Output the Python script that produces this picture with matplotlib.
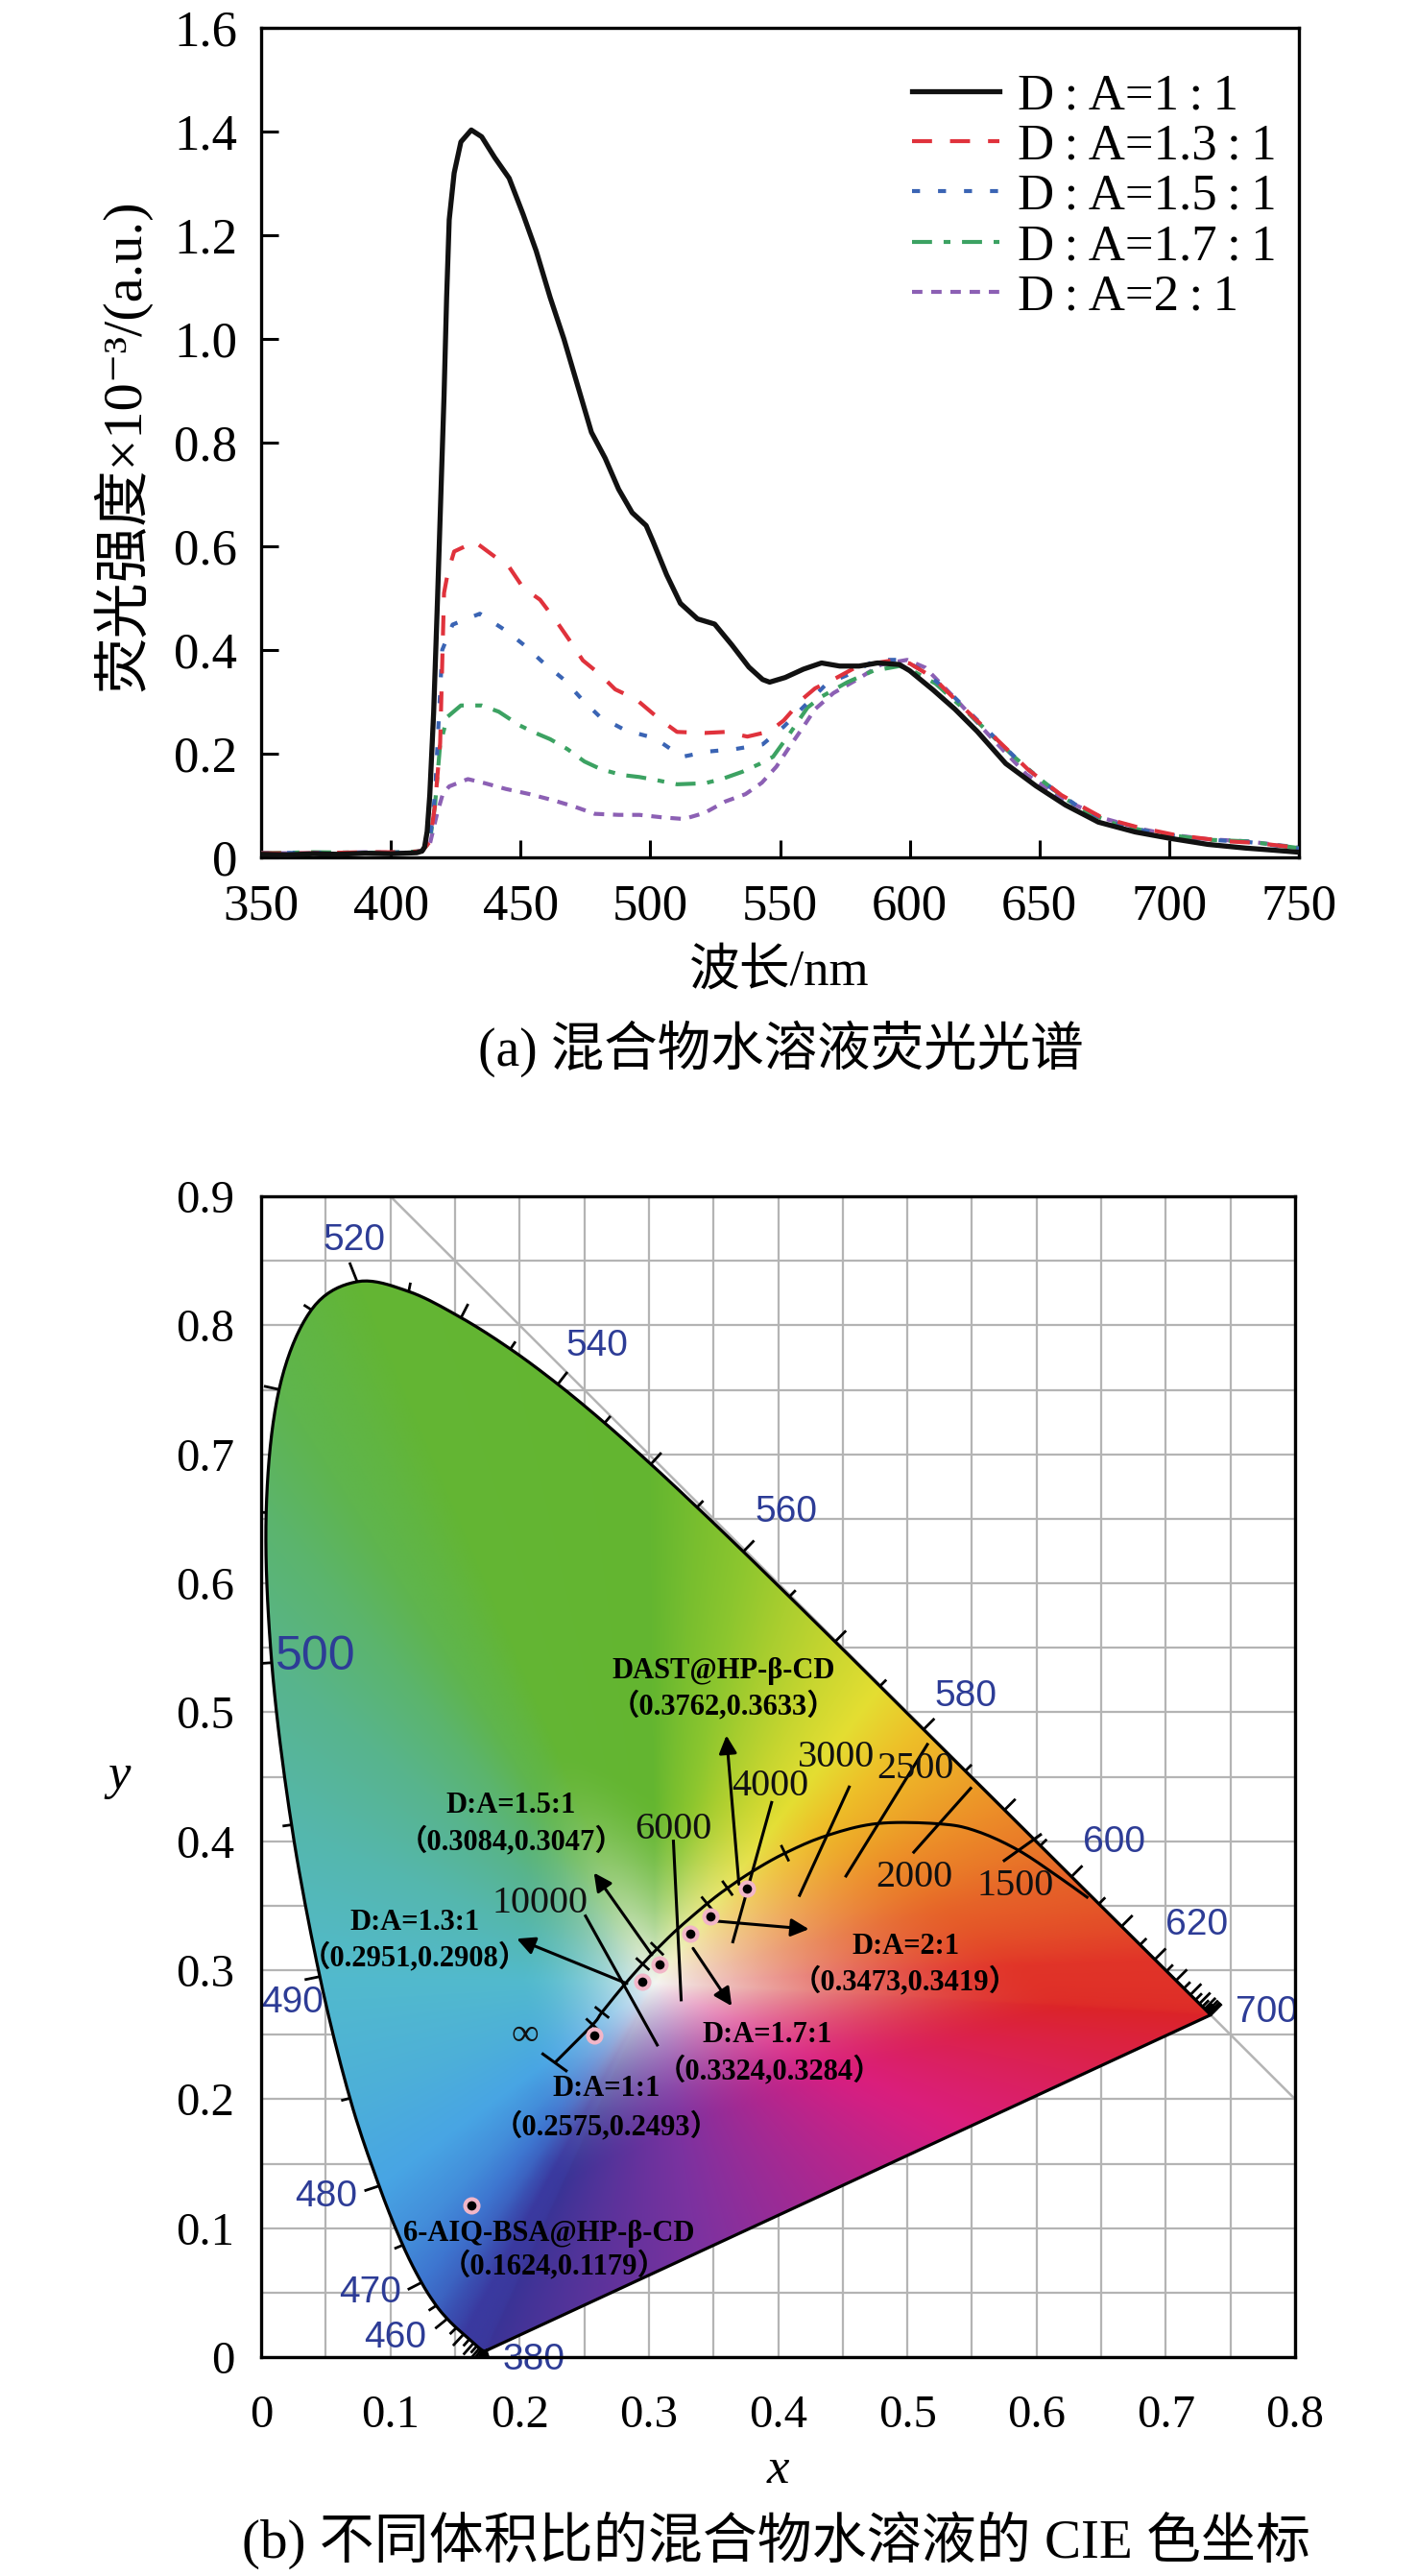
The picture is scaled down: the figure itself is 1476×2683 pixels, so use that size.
import numpy as np
import matplotlib
matplotlib.use('Agg')
import matplotlib.pyplot as plt
from matplotlib.patches import Polygon
from matplotlib.collections import LineCollection

plt.rcParams['font.family'] = ['Liberation Serif', 'Noto Sans CJK SC', 'DejaVu Sans']
plt.rcParams['axes.unicode_minus'] = False

# ---------------- (a) fluorescence spectra data ----------------
wl_k = [350, 360, 370, 380, 390, 400, 405, 410, 412, 413, 414, 415, 416.5, 418, 420.5, 421.5, 422.5, 424.4, 427,
        431, 435, 440, 445.6, 451, 456, 461.4, 466.7, 472, 477.3, 482.6, 487.8, 493, 498.4, 501, 506.3, 511.6,
        518.2, 524.8, 531.4, 538, 543.3, 546, 552, 559, 566, 573, 580.5, 587.6, 596, 600, 609, 617.4, 626, 637,
        648.6, 660, 672.7, 686.9, 700, 715, 729.4, 740, 750]
I_k = [0.006, 0.005, 0.007, 0.006, 0.008, 0.007, 0.008, 0.009, 0.012, 0.02, 0.05, 0.12, 0.28, 0.5, 0.89, 1.08, 1.23,
       1.32, 1.38, 1.403, 1.39, 1.35, 1.31, 1.24, 1.17, 1.08, 1.0, 0.91, 0.82, 0.77, 0.71, 0.665, 0.64, 0.61, 0.545,
       0.49, 0.46, 0.45, 0.41, 0.367, 0.343, 0.338, 0.347, 0.363, 0.375, 0.369, 0.369, 0.375, 0.372, 0.36, 0.323,
       0.286, 0.243, 0.181, 0.138, 0.101, 0.068, 0.049, 0.037, 0.025, 0.018, 0.014, 0.010]

wl_r = [350, 370, 390, 405, 412, 415, 417, 419, 420.5, 422, 424.4, 430.8, 432, 439, 445.6, 451, 457.5, 464, 468.7,
        474, 480.6, 486.5, 494.5, 503.7, 510.3, 521, 529, 537.4, 546, 551.4, 559, 563.5, 572, 579, 587, 594.7, 600,
        609, 620, 631.6, 645.7, 658.5, 674, 688, 702.5, 722, 733.7, 750]
I_r = [0.008, 0.008, 0.01, 0.01, 0.012, 0.03, 0.10, 0.22, 0.51, 0.55, 0.59, 0.605, 0.61, 0.584, 0.56, 0.52, 0.497,
       0.454, 0.42, 0.38, 0.353, 0.324, 0.305, 0.266, 0.242, 0.24, 0.242, 0.233, 0.243, 0.264, 0.307, 0.326, 0.347,
       0.366, 0.375, 0.381, 0.374, 0.347, 0.292, 0.237, 0.169, 0.12, 0.077, 0.058, 0.043, 0.031, 0.028, 0.018]

wl_b = [350, 370, 390, 405, 412, 415, 417, 419.8, 423.8, 434.3, 444.3, 451.5, 458, 466.7, 474, 480.6, 490.5, 501.7,
        512.3, 522, 532.8, 543.3, 551.4, 560.6, 568, 578, 587, 597.5, 605, 615, 625, 635, 645, 655, 665, 675, 690,
        700, 715, 730, 750]
I_b = [0.008, 0.009, 0.008, 0.01, 0.012, 0.03, 0.12, 0.40, 0.449, 0.47, 0.4375, 0.409, 0.379, 0.343, 0.303, 0.271,
       0.245, 0.23, 0.194, 0.204, 0.209, 0.218, 0.252, 0.298, 0.335, 0.356, 0.381, 0.381, 0.36, 0.32, 0.27, 0.22,
       0.172, 0.132, 0.098, 0.073, 0.052, 0.043, 0.034, 0.030, 0.017]

wl_g = [350, 370, 390, 405, 412, 415, 417, 419, 421.8, 427, 435, 441.6, 449.5, 454.8, 461.4, 468, 474.6, 481, 489,
        495.8, 502.4, 510.3, 521, 527.5, 535.4, 542, 547.3, 553.5, 560.6, 566, 576, 586, 596, 600, 610, 620, 630,
        640, 650, 660, 670, 680, 690, 700, 715, 730, 750]
I_g = [0.008, 0.01, 0.009, 0.01, 0.012, 0.03, 0.1, 0.218, 0.271, 0.293, 0.293, 0.281, 0.255, 0.242, 0.228, 0.209,
       0.185, 0.17, 0.159, 0.155, 0.149, 0.141, 0.143, 0.151, 0.165, 0.18, 0.194, 0.237, 0.289, 0.31, 0.338, 0.36,
       0.369, 0.363, 0.335, 0.29, 0.243, 0.195, 0.152, 0.113, 0.083, 0.063, 0.052, 0.043, 0.034, 0.031, 0.018]

wl_p = [350, 370, 390, 405, 412, 415, 417.8, 420, 422.5, 429.7, 436.3, 444.3, 453.5, 462.7, 470.7, 478.6, 487.8,
        495.8, 505, 513, 521, 529, 536.7, 543, 548.6, 553.5, 559, 563.5, 570.6, 579, 589, 599, 606, 617.4, 631.6,
        645, 660, 675, 690, 700, 715, 730, 750]
I_p = [0.008, 0.008, 0.01, 0.009, 0.012, 0.025, 0.084, 0.122, 0.137, 0.151, 0.143, 0.132, 0.122, 0.11, 0.098,
       0.084, 0.082, 0.082, 0.077, 0.074, 0.086, 0.108, 0.122, 0.144, 0.175, 0.212, 0.252, 0.286, 0.317, 0.341,
       0.372, 0.381, 0.366, 0.307, 0.23, 0.16, 0.11, 0.075, 0.054, 0.044, 0.035, 0.031, 0.019]

TS = '\u2009'
series_labels = ['D' + TS + ':' + TS + 'A=1' + TS + ':' + TS + '1',
                 'D' + TS + ':' + TS + 'A=1.3' + TS + ':' + TS + '1',
                 'D' + TS + ':' + TS + 'A=1.5' + TS + ':' + TS + '1',
                 'D' + TS + ':' + TS + 'A=1.7' + TS + ':' + TS + '1',
                 'D' + TS + ':' + TS + 'A=2' + TS + ':' + TS + '1']
xticks_a = [350, 400, 450, 500, 550, 600, 650, 700, 750]
yticks_a = [0, 0.2, 0.4, 0.6, 0.8, 1.0, 1.2, 1.4, 1.6]
ytick_labels_a = ['0', '0.2', '0.4', '0.6', '0.8', '1.0', '1.2', '1.4', '1.6']

# ---------------- (b) CIE data ----------------
loc_wl = list(range(380, 701, 5))
loc_x = [0.1741, 0.1740, 0.1738, 0.1736, 0.1733, 0.1730, 0.1726, 0.1721, 0.1714, 0.1703, 0.1689, 0.1669, 0.1644,
         0.1611, 0.1566, 0.1510, 0.1440, 0.1355, 0.1241, 0.1096, 0.0913, 0.0687, 0.0454, 0.0235, 0.0082, 0.0039,
         0.0139, 0.0389, 0.0743, 0.1142, 0.1547, 0.1929, 0.2296, 0.2658, 0.3016, 0.3373, 0.3731, 0.4087, 0.4441,
         0.4788, 0.5125, 0.5448, 0.5752, 0.6029, 0.6270, 0.6482, 0.6658, 0.6801, 0.6915, 0.7006, 0.7079, 0.7140,
         0.7190, 0.7230, 0.7260, 0.7283, 0.7300, 0.7311, 0.7320, 0.7327, 0.7334, 0.7340, 0.7344, 0.7346, 0.7347]
loc_y = [0.0050, 0.0050, 0.0049, 0.0049, 0.0048, 0.0048, 0.0048, 0.0048, 0.0051, 0.0058, 0.0069, 0.0086, 0.0109,
         0.0138, 0.0177, 0.0227, 0.0297, 0.0399, 0.0578, 0.0868, 0.1327, 0.2007, 0.2950, 0.4127, 0.5384, 0.6548,
         0.7502, 0.8120, 0.8338, 0.8262, 0.8059, 0.7816, 0.7543, 0.7243, 0.6923, 0.6589, 0.6245, 0.5896, 0.5547,
         0.5202, 0.4866, 0.4544, 0.4242, 0.3965, 0.3725, 0.3514, 0.3340, 0.3197, 0.3083, 0.2993, 0.2920, 0.2859,
         0.2809, 0.2770, 0.2740, 0.2717, 0.2700, 0.2689, 0.2680, 0.2673, 0.2666, 0.2660, 0.2656, 0.2654, 0.2653]

wl_labels = ['520', '540', '560', '580', '600', '620', '700', '500', '490', '480', '470', '460', '380']
wl_lab_x = [0.072, 0.260, 0.406, 0.545, 0.660, 0.724, 0.778, 0.042, 0.024, 0.050, 0.084, 0.104, 0.211]
wl_lab_y = [0.866, 0.784, 0.655, 0.512, 0.399, 0.335, 0.267, 0.543, 0.275, 0.124, 0.050, 0.015, -0.002]
wl_lab_size = [28, 28, 28, 28, 28, 28, 28, 36, 28, 28, 28, 28, 28]

planck_T = ['∞', 20000, 15000, 10000, 8000, 7000, 6000, 5000, 4500, 4000, 3500, 3000, 2500, 2000, 1750, 1500, 1250, 1100]
planck_x = [0.228, 0.2565, 0.2637, 0.2807, 0.2952, 0.3064, 0.3221, 0.3451, 0.3608, 0.3805, 0.4053, 0.4369, 0.4770,
            0.5267, 0.5544, 0.5857, 0.6160, 0.6390]
planck_y = [0.229, 0.2577, 0.2673, 0.2883, 0.3048, 0.3166, 0.3318, 0.3516, 0.3636, 0.3768, 0.3907, 0.4041, 0.4137,
            0.4133, 0.4075, 0.3931, 0.3730, 0.3566]
planck_minor = [20000, 15000, 8000, 7000, 5000, 4500, 3500]

iso_labels = ['10000', '6000', '4000', '3000', '2500', '2000', '1500', '∞']
iso_x0 = [0.251, 0.319, 0.395, 0.455, 0.5155, 0.549, 0.603, 0.218]
iso_y0 = [0.342, 0.400, 0.430, 0.442, 0.475, 0.441, 0.405, 0.235]
iso_x1 = [0.3065, 0.325, 0.365, 0.4166, 0.4525, 0.505, 0.575, 0.236]
iso_y1 = [0.242, 0.277, 0.322, 0.358, 0.373, 0.3915, 0.385, 0.222]
iso_lab_x = [0.216, 0.3193, 0.394, 0.4452, 0.506, 0.505, 0.5838, 0.204]
iso_lab_y = [0.3517, 0.409, 0.4425, 0.465, 0.456, 0.3716, 0.3654, 0.249]

pt_names = ['6-AIQ-BSA@HP-β-CD', 'D:A=1:1', 'D:A=1.3:1', 'D:A=1.5:1', 'D:A=1.7:1', 'D:A=2:1', 'DAST@HP-β-CD']
pt_x = [0.1624, 0.2575, 0.2951, 0.3084, 0.3324, 0.3473, 0.3762]
pt_y = [0.1179, 0.2493, 0.2908, 0.3047, 0.3284, 0.3419, 0.3633]
name_x = [0.2224, 0.267, 0.1189, 0.1935, 0.3918, 0.4985, 0.358]
name_y = [0.0957, 0.2077, 0.3368, 0.4276, 0.2498, 0.318, 0.532]
coord_x = [0.2266, 0.267, 0.1189, 0.1935, 0.393, 0.4985, 0.358]
coord_y = [0.0708, 0.1786, 0.3095, 0.400, 0.222, 0.2908, 0.505]
arr_x0 = [None, None, 0.283, 0.3023, 0.3342, 0.3513, 0.3697]
arr_y0 = [None, None, 0.2896, 0.312, 0.3169, 0.3381, 0.3666]
arr_x1 = [None, None, 0.1978, 0.2575, 0.3641, 0.4238, 0.360]
arr_y1 = [None, None, 0.3244, 0.3755, 0.2722, 0.3318, 0.482]

# boundary colour anchors (style for the coloured background)
anc_wl = [380, 450, 460, 470, 480, 490, 500, 510, 520, 550, 560, 570, 575, 580, 590, 600, 620, 700]
anc_rgb = [(58, 52, 150), (58, 58, 160), (58, 80, 178), (62, 118, 208), (72, 165, 228), (82, 186, 205),
           (88, 180, 140), (95, 181, 78), (99, 181, 52), (100, 182, 48), (140, 198, 46), (200, 214, 48),
           (228, 222, 50), (238, 190, 40), (236, 140, 40), (230, 100, 40), (225, 52, 40), (220, 36, 40)]
anc_reach = [0.55, 0.55, 0.55, 0.5, 0.45, 0.4, 0.35, 0.33, 0.33, 0.35, 0.42, 0.55, 0.6, 0.65, 0.7, 0.72, 0.75, 0.75]
pur_s = [0.0, 0.35, 0.7, 1.0]
pur_rgb = [(220, 36, 40), (218, 30, 128), (125, 50, 160), (58, 52, 150)]
pur_reach = [0.75, 0.62, 0.55, 0.55]

# ---------------- figure ----------------
W, H = 1476, 2683
fig = plt.figure(figsize=(W / 100, H / 100), dpi=100)


def fx(px):
    return px / W


def fy(py):
    return 1 - py / H


def catmull(xs, ys, n=10):
    P = np.column_stack([xs, ys])
    P = np.vstack([P[0], P, P[-1]])
    out = []
    t = np.linspace(0, 1, n, endpoint=False)[:, None]
    for i in range(1, len(P) - 2):
        p0, p1, p2, p3 = P[i - 1], P[i], P[i + 1], P[i + 2]
        seg = 0.5 * ((2 * p1) + (-p0 + p2) * t + (2 * p0 - 5 * p1 + 4 * p2 - p3) * t ** 2
                     + (-p0 + 3 * p1 - 3 * p2 + p3) * t ** 3)
        out.append(seg)
    out.append(P[-2][None])
    S = np.vstack(out)
    return S[:, 0], S[:, 1]


# ===== (a) =====
ax1 = fig.add_axes([fx(272), fy(893), (1353 - 272) / W, (893 - 29) / H])
lw_main = 3.0
ax1.plot(wl_k, I_k, color='#111111', lw=3.8, label=series_labels[0], zorder=6)
ax1.plot(wl_r, I_r, color='#e0323c', lw=lw_main, dashes=(5, 4.5), label=series_labels[1], zorder=5)
ax1.plot(wl_b, I_b, color='#3a64b4', lw=lw_main, dashes=(2.0, 4.5), label=series_labels[2], zorder=4)
ax1.plot(wl_g, I_g, color='#3ca262', lw=lw_main, dashes=(5, 2.9, 1.7, 2.9), label=series_labels[3], zorder=3)
ax1.plot(wl_p, I_p, color='#8c60b4', lw=lw_main, dashes=(2.6, 2.2), label=series_labels[4], zorder=2)
ax1.set_xlim(350, 750)
ax1.set_ylim(0, 1.6)
ax1.set_xticks(xticks_a)
ax1.set_yticks(yticks_a)
ax1.set_yticklabels(ytick_labels_a)
ax1.tick_params(direction='in', length=13, width=2.2, labelsize=38, top=False, right=False)
ax1.tick_params(axis='y', pad=18)
ax1.tick_params(axis='x', pad=20)
for s in ax1.spines.values():
    s.set_linewidth(2.4)
leg = ax1.legend(loc='upper left', bbox_to_anchor=(0.627, 0.945), frameon=False, fontsize=38,
                 handlelength=1.72, handletextpad=0.36, labelspacing=0.08, borderpad=0, borderaxespad=0)

fig.text(fx(127), fy(464), '荧光强度×10⁻³/(a.u.)', rotation=90, ha='center', va='center', fontsize=42)
fig.text(fx(812), fy(1012), '波长/nm', ha='center', va='center', fontsize=38)
fig.text(fx(813), fy(1092), '(a) 混合物水溶液荧光光谱', ha='center', va='center', fontsize=40)

# ===== (b) =====
ax2 = fig.add_axes([fx(272), fy(2455), (1349 - 272) / W, (2455 - 1246) / H])
ax2.set_xlim(0, 0.8)
ax2.set_ylim(0, 0.9)
gridc = '#b4b4b4'
gxs = np.arange(0, 0.8001, 0.05)
gys = np.arange(0, 0.9001, 0.05)
ax2.vlines(gxs, 0, 0.9, color=gridc, lw=1.6, zorder=0)
ax2.hlines(gys, 0, 0.8, color=gridc, lw=1.6, zorder=0)
dxs = np.array([0.1, 0.8])
ax2.plot(dxs, 1 - dxs, color=gridc, lw=1.8, zorder=0.5)

# coloured gamut
lx = np.array(loc_x)
ly = np.array(loc_y)
lwl = np.array(loc_wl, dtype=float)
sx, sy = catmull(lx, ly)
ncol = np.array([np.interp(lwl, anc_wl, [c[k] for c in anc_rgb]) for k in range(3)]).T
nreach = np.interp(lwl, anc_wl, anc_reach)
ss = np.linspace(0, 1, 25)[1:-1]
px_ = lx[-1] + (lx[0] - lx[-1]) * ss
py_ = ly[-1] + (ly[0] - ly[-1]) * ss
pcol = np.array([np.interp(ss, pur_s, [c[k] for c in pur_rgb]) for k in range(3)]).T
preach = np.interp(ss, pur_s, pur_reach)
bx = np.concatenate([lx, px_])
by = np.concatenate([ly, py_])
bcol = np.vstack([ncol, pcol])
breach = np.concatenate([nreach, preach])
wx, wy = 0.305, 0.29
bth = np.arctan2(by - wy, bx - wx)
sth = np.arctan2(sy - wy, sx - wx)
sr = np.hypot(sx - wx, sy - wy)
gx = np.linspace(0, 0.8, 800)
gy = np.linspace(0, 0.9, 900)
GX, GY = np.meshgrid(gx, gy)
th = np.arctan2(GY - wy, GX - wx)
rr = np.hypot(GX - wx, GY - wy)
pth = np.arctan2(py_ - wy, px_ - wx)
pr = np.hypot(px_ - wx, py_ - wy)
R = np.interp(th, np.concatenate([sth, pth]), np.concatenate([sr, pr]), period=2 * np.pi)
REACH = np.interp(th, bth, breach, period=2 * np.pi)
edge = np.stack([np.interp(th, bth, bcol[:, k], period=2 * np.pi) for k in range(3)], axis=-1)
u = np.clip(rr / (R * REACH), 0, 1)
f = 1 - (1 - u) ** 1.7
white = np.array([244, 245, 242], dtype=float)
img = (white + f[..., None] * (edge - white)) / 255.0
img = np.clip(img, 0, 1)
im = ax2.imshow(img, extent=[0, 0.8, 0, 0.9], origin='lower', aspect='auto', zorder=1, interpolation='bilinear')
poly = Polygon(np.column_stack([sx, sy]), closed=True, transform=ax2.transData, facecolor='none')
im.set_clip_path(poly)
ax2.plot(np.append(sx, sx[0]), np.append(sy, sy[0]), color='black', lw=2.3, zorder=3)

# locus ticks
segs = []
n = len(lx)
for i in range(n):
    i0, i1 = max(i - 2, 0), min(i + 2, n - 1)
    tx, ty = lx[i1] - lx[i0], ly[i1] - ly[i0]
    L = np.hypot(tx, ty)
    nx_, ny_ = -ty / L, tx / L
    w = loc_wl[i]
    ln = 0.016 if w == 520 else (0.012 if w % 10 == 0 else 0.007)
    segs.append([(lx[i], ly[i]), (lx[i] + nx_ * ln, ly[i] + ny_ * ln)])
ax2.add_collection(LineCollection(segs, colors='black', linewidths=2.0, zorder=3))

for t, x, y, s in zip(wl_labels, wl_lab_x, wl_lab_y, wl_lab_size):
    ax2.text(x, y, t, color='#2d3c96', fontsize=s, ha='center', va='center',
             family=['Liberation Sans', 'DejaVu Sans'], zorder=6)

# Planckian locus
plx = np.array(planck_x)
ply = np.array(planck_y)
qx, qy = catmull(plx, ply)
ax2.plot(qx, qy, color='black', lw=2.2, zorder=4)
msegs = []
for T in planck_minor:
    i = planck_T.index(T)
    tx, ty = plx[i + 1] - plx[i - 1], ply[i + 1] - ply[i - 1]
    L = np.hypot(tx, ty)
    nx_, ny_ = -ty / L, tx / L
    msegs.append([(plx[i] - nx_ * 0.007, ply[i] - ny_ * 0.007), (plx[i] + nx_ * 0.007, ply[i] + ny_ * 0.007)])
ax2.add_collection(LineCollection(msegs, colors='black', linewidths=2.0, zorder=4))
for lab, x0, y0, x1, y1, tx_, ty_ in zip(iso_labels, iso_x0, iso_y0, iso_x1, iso_y1, iso_lab_x, iso_lab_y):
    ax2.plot([x0, x1], [y0, y1], color='black', lw=2.2, zorder=4)
    ax2.text(tx_, ty_, lab, fontsize=29, ha='center', va='center', color='#111111', zorder=6)

# points, labels, arrows
for i in range(len(pt_x)):
    ax2.plot(pt_x[i], pt_y[i], 'o', ms=10, mfc='black', mec='#f2b6c8', mew=3, zorder=7)
    ax2.text(name_x[i], name_y[i], pt_names[i], fontsize=22, fontweight='bold',
             ha='center', va='center', zorder=6)
    ax2.text(coord_x[i], coord_y[i], '（{:.4f},{:.4f}）'.format(pt_x[i], pt_y[i]), fontsize=22,
             fontweight='bold', ha='center', va='center', zorder=6)
    if arr_x0[i] is not None:
        ax2.annotate('', xy=(arr_x1[i], arr_y1[i]), xytext=(arr_x0[i], arr_y0[i]),
                     arrowprops=dict(arrowstyle='-|>', color='black', lw=2.2, mutation_scale=28,
                                     shrinkA=0, shrinkB=0), zorder=6)

ax2.set_xticks([0, 0.1, 0.2, 0.3, 0.4, 0.5, 0.6, 0.7, 0.8])
ax2.set_xticklabels(['0', '0.1', '0.2', '0.3', '0.4', '0.5', '0.6', '0.7', '0.8'])
ax2.set_yticks([0, 0.1, 0.2, 0.3, 0.4, 0.5, 0.6, 0.7, 0.8, 0.9])
ax2.set_yticklabels(['0', '0.1', '0.2', '0.3', '0.4', '0.5', '0.6', '0.7', '0.8', '0.9'])
ax2.tick_params(length=0, labelsize=35)
ax2.tick_params(axis='y', pad=20)
ax2.tick_params(axis='x', pad=28)
for s in ax2.spines.values():
    s.set_linewidth(2.4)
    s.set_zorder(8)

fig.text(fx(124), fy(1850), 'y', style='italic', ha='center', va='center', fontsize=38)
fig.text(fx(810), fy(2573), 'x', style='italic', ha='center', va='center', fontsize=38)
fig.text(fx(808), fy(2646), '(b) 不同体积比的混合物水溶液的 CIE 色坐标', ha='center', va='center', fontsize=41)

fig.savefig('out.png', dpi=100)
